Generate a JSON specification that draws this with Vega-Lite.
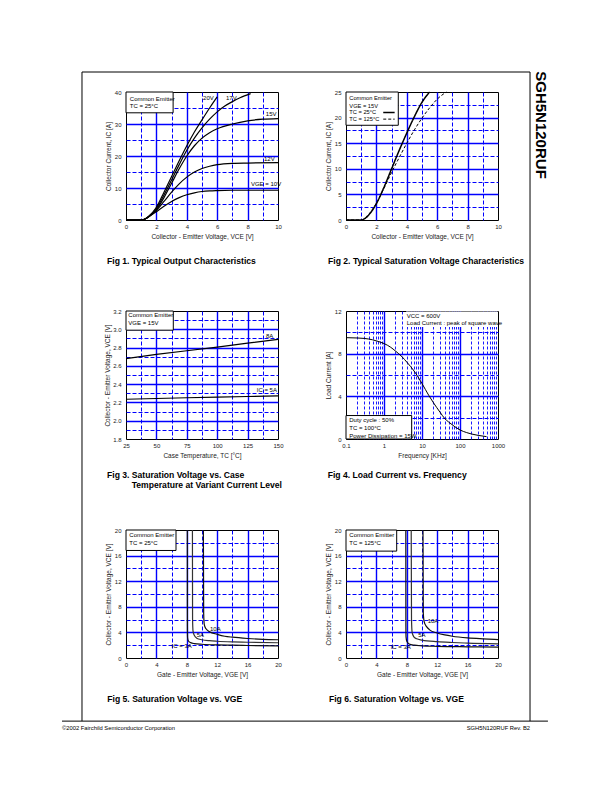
{
  "$schema": "https://vega.github.io/schema/vega-lite/v6.json",
  "autosize": {"type": "none"},
  "padding": {"left": 126, "top": 92, "right": 486, "bottom": 700},
  "background": "white",
  "config": {
    "font": "Liberation Sans",
    "view": {"stroke": "black", "strokeWidth": 1},
    "axis": {"grid": true, "gridColor": "#0000ff", "domain": false, "ticks": false, "tickCount": 100, "labelFont": "Liberation Sans", "labelFontSize": 6, "labelColor": "#222", "titleFont": "Liberation Sans", "titleFontSize": 6.5, "titleFontWeight": "normal", "titleColor": "#222", "labelFlush": false, "labelOverlap": false, "labelBound": false},
    "axisX": {"labelPadding": 3, "titlePadding": 4},
    "axisY": {"labelPadding": 5, "titlePadding": 2.5},
    "text": {"font": "Liberation Sans", "fontSize": 6, "align": "left", "baseline": "middle", "color": "black"}
  },
  "columns": 2,
  "spacing": {"row": 91, "column": 68},
  "bounds": "flush",
  "datasets": {
    "f1c": [
      {"s":"10V","x":0,"y":0},{"s":"10V","x":1,"y":0},{"s":"10V","x":1.25,"y":0.3},{"s":"10V","x":1.5,"y":1},{"s":"10V","x":2,"y":2.6},{"s":"10V","x":2.5,"y":4.3},{"s":"10V","x":3,"y":5.8},{"s":"10V","x":3.5,"y":7.0},{"s":"10V","x":4,"y":7.9},{"s":"10V","x":4.5,"y":8.5},{"s":"10V","x":5,"y":8.9},{"s":"10V","x":5.5,"y":9.1},{"s":"10V","x":6,"y":9.2},{"s":"10V","x":7,"y":9.3},{"s":"10V","x":8,"y":9.3},{"s":"10V","x":10,"y":9.3},
      {"s":"12V","x":0,"y":0},{"s":"12V","x":1,"y":0},{"s":"12V","x":1.25,"y":0.3},{"s":"12V","x":1.5,"y":1},{"s":"12V","x":2,"y":3},{"s":"12V","x":2.5,"y":5.8},{"s":"12V","x":3,"y":8.7},{"s":"12V","x":3.5,"y":11.3},{"s":"12V","x":4,"y":13.4},{"s":"12V","x":4.5,"y":15},{"s":"12V","x":5,"y":16.1},{"s":"12V","x":5.5,"y":16.8},{"s":"12V","x":6,"y":17.3},{"s":"12V","x":7,"y":17.7},{"s":"12V","x":8,"y":17.8},{"s":"12V","x":10,"y":17.9},
      {"s":"15V","x":0,"y":0},{"s":"15V","x":1,"y":0},{"s":"15V","x":1.25,"y":0.3},{"s":"15V","x":1.5,"y":1.1},{"s":"15V","x":2,"y":3.2},{"s":"15V","x":2.5,"y":7},{"s":"15V","x":3,"y":11.5},{"s":"15V","x":3.5,"y":16},{"s":"15V","x":4,"y":20},{"s":"15V","x":4.5,"y":23.2},{"s":"15V","x":5,"y":25.6},{"s":"15V","x":5.5,"y":27.3},{"s":"15V","x":6,"y":28.5},{"s":"15V","x":7,"y":30},{"s":"15V","x":8,"y":31},{"s":"15V","x":9,"y":31.5},{"s":"15V","x":10,"y":31.7},
      {"s":"17V","x":0,"y":0},{"s":"17V","x":1,"y":0},{"s":"17V","x":1.25,"y":0.3},{"s":"17V","x":1.5,"y":1.1},{"s":"17V","x":2,"y":3.6},{"s":"17V","x":2.5,"y":7.8},{"s":"17V","x":3,"y":12.5},{"s":"17V","x":3.5,"y":17.3},{"s":"17V","x":4,"y":21.8},{"s":"17V","x":4.5,"y":25.6},{"s":"17V","x":5,"y":28.8},{"s":"17V","x":5.5,"y":31.5},{"s":"17V","x":6,"y":33.8},{"s":"17V","x":6.5,"y":35.6},{"s":"17V","x":7,"y":37},{"s":"17V","x":7.5,"y":38.2},{"s":"17V","x":8.2,"y":39.5},
      {"s":"20V","x":0,"y":0},{"s":"20V","x":1,"y":0},{"s":"20V","x":1.25,"y":0.3},{"s":"20V","x":1.5,"y":1.2},{"s":"20V","x":2,"y":4},{"s":"20V","x":2.5,"y":8.7},{"s":"20V","x":3,"y":13.6},{"s":"20V","x":3.5,"y":18.5},{"s":"20V","x":4,"y":23.2},{"s":"20V","x":4.5,"y":27.5},{"s":"20V","x":5,"y":31.3},{"s":"20V","x":5.5,"y":35},{"s":"20V","x":6,"y":38.5}
    ],
    "f1t": [
      {"x":0.25,"y":37.8,"t":"Common Emitter"},{"x":0.25,"y":35.6,"t":"TC = 25°C"},
      {"x":5.07,"y":38.0,"t":"20V"},{"x":6.58,"y":38.0,"t":"17V"},{"x":9.2,"y":33.1,"t":"15V"},{"x":9.08,"y":19.2,"t":"12V"},{"x":8.22,"y":11.2,"t":"VGE = 10V"}
    ],
    "f1box": [{"x":0,"x2":3.1,"y":33.5,"y2":40}],
    "cap1": [{"x":-1.25,"y":-12.9,"t":"Fig 1. Typical Output Characteristics"}],
    "frame": [
      {"x":-2.895,"y":46.25,"x2":-2.895,"y2":-156.6},
      {"x":26.58,"y":46.25,"x2":26.58,"y2":-156.6},
      {"x":-2.895,"y":46.25,"x2":26.58,"y2":46.25},
      {"x":-4.21,"y":-156.6,"x2":27.76,"y2":-156.6}
    ],
    "f2c": [
      {"s":"25","x":0,"y":0},{"s":"25","x":1,"y":0},{"s":"25","x":1.25,"y":0.3},{"s":"25","x":1.5,"y":1.0},{"s":"25","x":2,"y":3.2},{"s":"25","x":2.5,"y":6.4},{"s":"25","x":3,"y":10},{"s":"25","x":3.5,"y":13.6},{"s":"25","x":4,"y":17},{"s":"25","x":4.5,"y":20.2},{"s":"25","x":5,"y":23},{"s":"25","x":5.5,"y":25},
      {"s":"125","x":0,"y":0},{"s":"125","x":1,"y":0},{"s":"125","x":1.25,"y":0.3},{"s":"125","x":1.5,"y":1.1},{"s":"125","x":2,"y":3.3},{"s":"125","x":2.5,"y":6.2},{"s":"125","x":3,"y":9.3},{"s":"125","x":3.5,"y":12.2},{"s":"125","x":4,"y":15},{"s":"125","x":4.5,"y":17.6},{"s":"125","x":5,"y":19.9},{"s":"125","x":5.5,"y":21.9},{"s":"125","x":6,"y":23.6},{"s":"125","x":6.6,"y":25}
    ],
    "f2t": [
      {"x":0.22,"y":23.8,"t":"Common Emitter"},{"x":0.22,"y":22.3,"t":"VGE = 15V"},{"x":0.22,"y":21.0,"t":"TC =  25°C"},{"x":0.22,"y":19.7,"t":"TC = 125°C"}
    ],
    "f2box": [{"x":0,"x2":3.44,"y":18.5,"y2":25}],
    "f2leg": [{"s":"25","x":2.45,"x2":3.2,"y":21.0},{"s":"125","x":2.45,"x2":3.2,"y":19.7}],
    "cap2": [{"x":-1.18,"y":-8.06,"t":"Fig 2. Typical Saturation Voltage Characteristics"}],
    "hdr": [{"x":12.83,"y":18.55,"t":"SGH5N120RUF"}],
    "f3c": [
      {"s":"8A","x":25,"y":2.68},{"s":"8A","x":50,"y":2.725},{"s":"8A","x":75,"y":2.765},{"s":"8A","x":100,"y":2.805},{"s":"8A","x":125,"y":2.848},{"s":"8A","x":150,"y":2.89},
      {"s":"5A","x":25,"y":2.235},{"s":"5A","x":50,"y":2.243},{"s":"5A","x":75,"y":2.251},{"s":"5A","x":100,"y":2.258},{"s":"5A","x":125,"y":2.265},{"s":"5A","x":150,"y":2.272}
    ],
    "f3t": [
      {"x":26.9,"y":3.153,"t":"Common Emitter"},{"x":26.9,"y":3.065,"t":"VGE = 15V"},{"x":140.1,"y":2.93,"t":"8A"},{"x":132.5,"y":2.337,"t":"IC = 5A"}
    ],
    "f3box": [{"x":25,"x2":63.9,"y":2.99,"y2":3.2}],
    "cap3": [{"x":9.38,"y":1.406,"t":"Fig 3. Saturation Voltage vs. Case"},{"x":29.7,"y":1.302,"t":"Temperature at Variant Current Level"}],
    "f4c": [
      {"x":0.1,"y":9.5},{"x":0.2,"y":9.47},{"x":0.3,"y":9.43},{"x":0.5,"y":9.3},{"x":0.7,"y":9.15},{"x":1,"y":8.95},{"x":1.5,"y":8.6},{"x":2,"y":8.25},{"x":3,"y":7.7},{"x":4,"y":7.2},{"x":5,"y":6.8},{"x":7,"y":6.1},{"x":10,"y":5.2},{"x":15,"y":4.1},{"x":20,"y":3.4},{"x":30,"y":2.5},{"x":40,"y":1.9},{"x":50,"y":1.6},{"x":70,"y":1.2},{"x":100,"y":0.85},{"x":150,"y":0.6},{"x":200,"y":0.47},{"x":300,"y":0.34},{"x":500,"y":0.22}
    ],
    "f4t": [
      {"x":3.96,"y":11.55,"t":"VCC = 600V"},{"x":3.96,"y":10.9,"t":"Load Current : peak of square wave"},
      {"x":0.122,"y":1.78,"t":"Duty cycle : 50%"},{"x":0.122,"y":1.05,"t":"TC = 100°C"},{"x":0.122,"y":0.32,"t":"Power Dissipation = 15W"}
    ],
    "f4wbox": [{"x":3.8,"x2":980,"y":10.5,"y2":11.95}],
    "f4box": [{"x":0.1,"x2":5.35,"y":0,"y2":2.2}],
    "cap4": [{"x":0.033,"y":-3.37,"t":"Fig 4. Load Current vs. Frequency"}],
    "f5c": [
      {"s":"3A","x":8.07,"y":20},{"s":"3A","x":8.08,"y":5},{"s":"3A","x":8.1,"y":3.2},{"s":"3A","x":8.2,"y":2.7},{"s":"3A","x":8.5,"y":2.4},{"s":"3A","x":9,"y":2.25},{"s":"3A","x":10,"y":2.15},{"s":"3A","x":12,"y":2.05},{"s":"3A","x":14,"y":2.0},{"s":"3A","x":16,"y":1.95},{"s":"3A","x":20,"y":1.9},
      {"s":"5A","x":8.74,"y":20},{"s":"5A","x":8.76,"y":6},{"s":"5A","x":8.82,"y":4.2},{"s":"5A","x":9.0,"y":3.5},{"s":"5A","x":9.3,"y":3.1},{"s":"5A","x":10,"y":2.85},{"s":"5A","x":11,"y":2.7},{"s":"5A","x":12,"y":2.62},{"s":"5A","x":14,"y":2.52},{"s":"5A","x":16,"y":2.46},{"s":"5A","x":20,"y":2.38},
      {"s":"10A","x":10.18,"y":20},{"s":"10A","x":10.22,"y":7},{"s":"10A","x":10.3,"y":5.2},{"s":"10A","x":10.5,"y":4.6},{"s":"10A","x":11,"y":4.1},{"s":"10A","x":12,"y":3.7},{"s":"10A","x":13,"y":3.4},{"s":"10A","x":14,"y":3.25},{"s":"10A","x":16,"y":3.05},{"s":"10A","x":18,"y":2.92},{"s":"10A","x":20,"y":2.85}
    ],
    "f5t": [
      {"x":0.44,"y":19.2,"t":"Common Emitter"},{"x":0.44,"y":18.0,"t":"TC = 25°C"},{"x":6.0,"y":1.9,"t":"IC = 3A"},{"x":9.3,"y":3.6,"t":"5A"},{"x":11.05,"y":4.5,"t":"10A"}
    ],
    "f5box": [{"x":0,"x2":6.58,"y":16.8,"y2":20}],
    "cap5": [{"x":-2.46,"y":-6.33,"t":"Fig 5. Saturation Voltage vs. VGE"}],
    "foot1": [{"x":-8.42,"y":-10.94,"t":"©2002 Fairchild Semiconductor Corporation"}],
    "f6c": [
      {"s":"3A","x":7.87,"y":20},{"s":"3A","x":7.88,"y":5},{"s":"3A","x":7.9,"y":3.3},{"s":"3A","x":8.0,"y":2.6},{"s":"3A","x":8.3,"y":2.2},{"s":"3A","x":9,"y":2.0},{"s":"3A","x":10,"y":1.9},{"s":"3A","x":12,"y":1.82},{"s":"3A","x":16,"y":1.75},{"s":"3A","x":20,"y":1.7},
      {"s":"5A","x":8.58,"y":20},{"s":"5A","x":8.62,"y":6},{"s":"5A","x":8.7,"y":4.0},{"s":"5A","x":8.9,"y":3.35},{"s":"5A","x":9.3,"y":3.0},{"s":"5A","x":10,"y":2.8},{"s":"5A","x":12,"y":2.55},{"s":"5A","x":14,"y":2.42},{"s":"5A","x":16,"y":2.33},{"s":"5A","x":20,"y":2.22},
      {"s":"10A","x":10.13,"y":20},{"s":"10A","x":10.17,"y":7},{"s":"10A","x":10.3,"y":5.6},{"s":"10A","x":10.6,"y":4.9},{"s":"10A","x":11,"y":4.4},{"s":"10A","x":12,"y":3.9},{"s":"10A","x":13,"y":3.6},{"s":"10A","x":14,"y":3.4},{"s":"10A","x":16,"y":3.15},{"s":"10A","x":18,"y":3.0},{"s":"10A","x":20,"y":2.88}
    ],
    "f6t": [
      {"x":0.44,"y":19.2,"t":"Common Emitter"},{"x":0.44,"y":18.0,"t":"TC = 125°C"},{"x":5.88,"y":1.73,"t":"IC = 3A"},{"x":9.5,"y":3.67,"t":"5A"},{"x":10.75,"y":5.83,"t":"10A"}
    ],
    "f6box": [{"x":0,"x2":6.67,"y":16.7,"y2":20}],
    "cap6": [{"x":-2.24,"y":-6.33,"t":"Fig 6. Saturation Voltage vs. VGE"}],
    "foot2": [{"x":24.21,"y":-10.94,"t":"SGH5N120RUF Rev. B2"}]
  },
  "concat": [
    {
      "width": 152, "height": 128,
      "layer": [
        {"data": {"name": "f1c"}, "mark": {"type": "line", "color": "black", "strokeWidth": 1.2, "interpolate": "monotone"},
         "encoding": {
           "x": {"field": "x", "type": "quantitative", "scale": {"domain": [0, 10], "nice": false}, "axis": {"title": "Collector - Emitter Voltage, VCE [V]", "tickCount": 100, "values": [0,1,2,3,4,5,6,7,8,9,10], "labelExpr": "datum.value % 2 == 0 ? format(datum.value, '~g') : ''", "gridDash": {"condition": {"test": "datum.value % 2 == 0", "value": [1,0]}, "value": [4,2]}, "gridWidth": {"condition": {"test": "datum.value % 2 == 0", "value": 1.4}, "value": 1}, "gridOpacity": {"condition": {"test": "datum.value == 0 || datum.value == 10", "value": 0}, "value": 1}}},
           "y": {"field": "y", "type": "quantitative", "scale": {"domain": [0, 40], "nice": false}, "axis": {"title": "Collector Current, IC [A]", "tickCount": 100, "values": [0,5,10,15,20,25,30,35,40], "labelExpr": "datum.value % 10 == 0 ? format(datum.value, '~g') : ''", "gridDash": {"condition": {"test": "datum.value % 10 == 0", "value": [1,0]}, "value": [4,2]}, "gridWidth": {"condition": {"test": "datum.value % 10 == 0", "value": 1.4}, "value": 1}, "gridOpacity": {"condition": {"test": "datum.value == 0 || datum.value == 40", "value": 0}, "value": 1}}},
           "detail": {"field": "s"}
         }},
        {"data": {"name": "f1box"}, "mark": {"type": "rect", "fill": "white", "stroke": "black", "strokeWidth": 1},
         "encoding": {"x": {"field": "x", "type": "quantitative", "scale": {"domain": [0, 10], "nice": false}}, "x2": {"field": "x2"}, "y": {"field": "y", "type": "quantitative", "scale": {"domain": [0, 40], "nice": false}}, "y2": {"field": "y2"}}},
        {"data": {"name": "f1t"}, "mark": {"type": "text"},
         "encoding": {"x": {"field": "x", "type": "quantitative", "scale": {"domain": [0, 10], "nice": false}}, "y": {"field": "y", "type": "quantitative", "scale": {"domain": [0, 40], "nice": false}}, "text": {"field": "t"}}},
        {"data": {"name": "cap1"}, "mark": {"type": "text", "fontSize": 8.6, "fontWeight": "bold", "clip": false},
         "encoding": {"x": {"field": "x", "type": "quantitative", "scale": {"domain": [0, 10], "nice": false}}, "y": {"field": "y", "type": "quantitative", "scale": {"domain": [0, 40], "nice": false}}, "text": {"field": "t"}}},
        {"data": {"name": "frame"}, "mark": {"type": "rule", "color": "black", "strokeWidth": 1, "clip": false},
         "encoding": {"x": {"field": "x", "type": "quantitative", "scale": {"domain": [0, 10], "nice": false}}, "x2": {"field": "x2"}, "y": {"field": "y", "type": "quantitative", "scale": {"domain": [0, 40], "nice": false}}, "y2": {"field": "y2"}}}
      ]
    },
    {
      "width": 152, "height": 128,
      "layer": [
        {"data": {"name": "f2c"}, "mark": {"type": "line", "color": "black", "interpolate": "monotone"},
         "encoding": {
           "x": {"field": "x", "type": "quantitative", "scale": {"domain": [0, 10], "nice": false}, "axis": {"title": "Collector - Emitter Voltage, VCE [V]", "tickCount": 100, "values": [0,1,2,3,4,5,6,7,8,9,10], "labelExpr": "datum.value % 2 == 0 ? format(datum.value, '~g') : ''", "gridDash": {"condition": {"test": "datum.value % 2 == 0", "value": [1,0]}, "value": [4,2]}, "gridWidth": {"condition": {"test": "datum.value % 2 == 0", "value": 1.4}, "value": 1}, "gridOpacity": {"condition": {"test": "datum.value == 0 || datum.value == 10", "value": 0}, "value": 1}}},
           "y": {"field": "y", "type": "quantitative", "scale": {"domain": [0, 25], "nice": false}, "axis": {"title": "Collector Current, IC [A]", "tickCount": 100, "values": [0,2.5,5,7.5,10,12.5,15,17.5,20,22.5,25], "labelExpr": "datum.value % 5 == 0 ? format(datum.value, '~g') : ''", "gridDash": {"condition": {"test": "datum.value % 5 == 0", "value": [1,0]}, "value": [4,2]}, "gridWidth": {"condition": {"test": "datum.value % 5 == 0", "value": 1.4}, "value": 1}, "gridOpacity": {"condition": {"test": "datum.value == 0 || datum.value == 25", "value": 0}, "value": 1}}},
           "strokeDash": {"field": "s", "type": "nominal", "scale": {"domain": ["25", "125"], "range": [[1, 0], [3, 2]]}, "legend": null},
           "strokeWidth": {"field": "s", "type": "nominal", "scale": {"domain": ["25", "125"], "range": [1.5, 1]}, "legend": null}
         }},
        {"data": {"name": "f2box"}, "mark": {"type": "rect", "fill": "white", "stroke": "black", "strokeWidth": 1},
         "encoding": {"x": {"field": "x", "type": "quantitative", "scale": {"domain": [0, 10], "nice": false}}, "x2": {"field": "x2"}, "y": {"field": "y", "type": "quantitative", "scale": {"domain": [0, 25], "nice": false}}, "y2": {"field": "y2"}}},
        {"data": {"name": "f2leg"}, "mark": {"type": "rule", "color": "black"},
         "encoding": {"x": {"field": "x", "type": "quantitative", "scale": {"domain": [0, 10], "nice": false}}, "x2": {"field": "x2"}, "y": {"field": "y", "type": "quantitative", "scale": {"domain": [0, 25], "nice": false}},
           "strokeDash": {"field": "s", "type": "nominal", "scale": {"domain": ["25", "125"], "range": [[1, 0], [3, 2]]}, "legend": null},
           "strokeWidth": {"field": "s", "type": "nominal", "scale": {"domain": ["25", "125"], "range": [1.5, 1]}, "legend": null}}},
        {"data": {"name": "f2t"}, "mark": {"type": "text", "fontSize": 5.7},
         "encoding": {"x": {"field": "x", "type": "quantitative", "scale": {"domain": [0, 10], "nice": false}}, "y": {"field": "y", "type": "quantitative", "scale": {"domain": [0, 25], "nice": false}}, "text": {"field": "t"}}},
        {"data": {"name": "cap2"}, "mark": {"type": "text", "fontSize": 8.6, "fontWeight": "bold", "clip": false},
         "encoding": {"x": {"field": "x", "type": "quantitative", "scale": {"domain": [0, 10], "nice": false}}, "y": {"field": "y", "type": "quantitative", "scale": {"domain": [0, 25], "nice": false}}, "text": {"field": "t"}}},
        {"data": {"name": "hdr"}, "mark": {"type": "text", "angle": 90, "align": "center", "baseline": "middle", "fontSize": 15, "fontWeight": "bold", "clip": false},
         "encoding": {"x": {"field": "x", "type": "quantitative", "scale": {"domain": [0, 10], "nice": false}}, "y": {"field": "y", "type": "quantitative", "scale": {"domain": [0, 25], "nice": false}}, "text": {"field": "t"}}}
      ]
    },
    {
      "width": 152, "height": 128,
      "layer": [
        {"data": {"name": "f3c"}, "mark": {"type": "line", "color": "black", "strokeWidth": 1.2},
         "encoding": {
           "x": {"field": "x", "type": "quantitative", "scale": {"domain": [25, 150], "nice": false, "zero": false}, "axis": {"title": "Case Temperature, TC [°C]", "tickCount": 100, "values": [25,37.5,50,62.5,75,87.5,100,112.5,125,137.5,150], "labelExpr": "datum.value % 25 == 0 ? format(datum.value, '~g') : ''", "gridDash": {"condition": {"test": "datum.value % 25 == 0", "value": [1,0]}, "value": [4,2]}, "gridWidth": {"condition": {"test": "datum.value % 25 == 0", "value": 1.4}, "value": 1}, "gridOpacity": {"condition": {"test": "datum.value == 25 || datum.value == 150", "value": 0}, "value": 1}}},
           "y": {"field": "y", "type": "quantitative", "scale": {"domain": [1.8, 3.2], "nice": false, "zero": false}, "axis": {"title": "Collector - Emitter Voltage, VCE [V]", "tickCount": 100, "values": [1.8,1.9,2.0,2.1,2.2,2.3,2.4,2.5,2.6,2.7,2.8,2.9,3.0,3.1,3.2], "labelExpr": "round(datum.value * 10) % 2 == 0 ? format(datum.value, '.1f') : ''", "gridDash": {"condition": {"test": "round(datum.value * 10) % 2 == 0", "value": [1,0]}, "value": [4,2]}, "gridWidth": {"condition": {"test": "round(datum.value * 10) % 2 == 0", "value": 1.4}, "value": 1}, "gridOpacity": {"condition": {"test": "datum.value == 1.8 || datum.value == 3.2", "value": 0}, "value": 1}}},
           "detail": {"field": "s"}
         }},
        {"data": {"name": "f3box"}, "mark": {"type": "rect", "fill": "white", "stroke": "black", "strokeWidth": 1},
         "encoding": {"x": {"field": "x", "type": "quantitative", "scale": {"domain": [25, 150], "nice": false, "zero": false}}, "x2": {"field": "x2"}, "y": {"field": "y", "type": "quantitative", "scale": {"domain": [1.8, 3.2], "nice": false, "zero": false}}, "y2": {"field": "y2"}}},
        {"data": {"name": "f3t"}, "mark": {"type": "text"},
         "encoding": {"x": {"field": "x", "type": "quantitative", "scale": {"domain": [25, 150], "nice": false, "zero": false}}, "y": {"field": "y", "type": "quantitative", "scale": {"domain": [1.8, 3.2], "nice": false, "zero": false}}, "text": {"field": "t"}}},
        {"data": {"name": "cap3"}, "mark": {"type": "text", "fontSize": 8.6, "fontWeight": "bold", "clip": false},
         "encoding": {"x": {"field": "x", "type": "quantitative", "scale": {"domain": [25, 150], "nice": false, "zero": false}}, "y": {"field": "y", "type": "quantitative", "scale": {"domain": [1.8, 3.2], "nice": false, "zero": false}}, "text": {"field": "t"}}}
      ]
    },
    {
      "width": 152, "height": 128,
      "layer": [
        {"data": {"name": "f4c"}, "mark": {"type": "line", "color": "black", "strokeWidth": 1, "interpolate": "monotone"},
         "encoding": {
           "x": {"field": "x", "type": "quantitative", "scale": {"type": "log", "domain": [0.1, 1000], "nice": false}, "axis": {"title": "Frequency [KHz]", "tickCount": 100, "values": [0.1,0.2,0.3,0.4,0.5,0.6,0.7,0.8,0.9,1,2,3,4,5,6,7,8,9,10,20,30,40,50,60,70,80,90,100,200,300,400,500,600,700,800,900,1000], "labelExpr": "abs(log(datum.value)/LN10 - round(log(datum.value)/LN10)) < 0.001 ? format(datum.value, '~g') : ''", "gridDash": {"condition": {"test": "abs(log(datum.value)/LN10 - round(log(datum.value)/LN10)) < 0.001", "value": [1,0]}, "value": [3,2]}, "gridWidth": {"condition": {"test": "abs(log(datum.value)/LN10 - round(log(datum.value)/LN10)) < 0.001", "value": 1.4}, "value": 0.9}, "gridOpacity": {"condition": {"test": "datum.value == 0.1 || datum.value == 1000", "value": 0}, "value": 1}}},
           "y": {"field": "y", "type": "quantitative", "scale": {"domain": [0, 12], "nice": false}, "axis": {"title": "Load Current [A]", "tickCount": 100, "values": [0,2,4,6,8,10,12], "labelExpr": "datum.value % 4 == 0 ? format(datum.value, '~g') : ''", "gridDash": {"condition": {"test": "datum.value % 4 == 0", "value": [1,0]}, "value": [4,2]}, "gridWidth": {"condition": {"test": "datum.value % 4 == 0", "value": 1.4}, "value": 1}, "gridOpacity": {"condition": {"test": "datum.value == 0 || datum.value == 12", "value": 0}, "value": 1}}}
         }},
        {"data": {"name": "f4wbox"}, "mark": {"type": "rect", "fill": "white"},
         "encoding": {"x": {"field": "x", "type": "quantitative", "scale": {"type": "log", "domain": [0.1, 1000], "nice": false}}, "x2": {"field": "x2"}, "y": {"field": "y", "type": "quantitative", "scale": {"domain": [0, 12], "nice": false}}, "y2": {"field": "y2"}}},
        {"data": {"name": "f4box"}, "mark": {"type": "rect", "fill": "white", "stroke": "black", "strokeWidth": 1},
         "encoding": {"x": {"field": "x", "type": "quantitative", "scale": {"type": "log", "domain": [0.1, 1000], "nice": false}}, "x2": {"field": "x2"}, "y": {"field": "y", "type": "quantitative", "scale": {"domain": [0, 12], "nice": false}}, "y2": {"field": "y2"}}},
        {"data": {"name": "f4t"}, "mark": {"type": "text"},
         "encoding": {"x": {"field": "x", "type": "quantitative", "scale": {"type": "log", "domain": [0.1, 1000], "nice": false}}, "y": {"field": "y", "type": "quantitative", "scale": {"domain": [0, 12], "nice": false}}, "text": {"field": "t"}}},
        {"data": {"name": "cap4"}, "mark": {"type": "text", "fontSize": 8.6, "fontWeight": "bold", "clip": false},
         "encoding": {"x": {"field": "x", "type": "quantitative", "scale": {"type": "log", "domain": [0.1, 1000], "nice": false}}, "y": {"field": "y", "type": "quantitative", "scale": {"domain": [0, 12], "nice": false}}, "text": {"field": "t"}}}
      ]
    },
    {
      "width": 152, "height": 128,
      "layer": [
        {"data": {"name": "f5c"}, "mark": {"type": "line", "strokeWidth": 1.2, "interpolate": "monotone"},
         "encoding": {
           "x": {"field": "x", "type": "quantitative", "scale": {"domain": [0, 20], "nice": false}, "axis": {"title": "Gate - Emitter Voltage, VGE [V]", "tickCount": 100, "values": [0,2,4,6,8,10,12,14,16,18,20], "labelExpr": "datum.value % 4 == 0 ? format(datum.value, '~g') : ''", "gridDash": {"condition": {"test": "datum.value % 4 == 0", "value": [1,0]}, "value": [4,2]}, "gridWidth": {"condition": {"test": "datum.value % 4 == 0", "value": 1.4}, "value": 1}, "gridOpacity": {"condition": {"test": "datum.value == 0 || datum.value == 20", "value": 0}, "value": 1}}},
           "y": {"field": "y", "type": "quantitative", "scale": {"domain": [0, 20], "nice": false}, "axis": {"title": "Collector - Emitter Voltage, VCE [V]", "tickCount": 100, "values": [0,2,4,6,8,10,12,14,16,18,20], "labelExpr": "datum.value % 4 == 0 ? format(datum.value, '~g') : ''", "gridDash": {"condition": {"test": "datum.value % 4 == 0", "value": [1,0]}, "value": [4,2]}, "gridWidth": {"condition": {"test": "datum.value % 4 == 0", "value": 1.4}, "value": 1}, "gridOpacity": {"condition": {"test": "datum.value == 0 || datum.value == 20", "value": 0}, "value": 1}}},
           "color": {"field": "s", "type": "nominal", "scale": {"domain": ["3A", "5A", "10A"], "range": ["#111111", "#333333", "#111111"]}, "legend": null}
         }},
        {"data": {"name": "f5box"}, "mark": {"type": "rect", "fill": "white", "stroke": "black", "strokeWidth": 1},
         "encoding": {"x": {"field": "x", "type": "quantitative", "scale": {"domain": [0, 20], "nice": false}}, "x2": {"field": "x2"}, "y": {"field": "y", "type": "quantitative", "scale": {"domain": [0, 20], "nice": false}}, "y2": {"field": "y2"}}},
        {"data": {"name": "f5t"}, "mark": {"type": "text"},
         "encoding": {"x": {"field": "x", "type": "quantitative", "scale": {"domain": [0, 20], "nice": false}}, "y": {"field": "y", "type": "quantitative", "scale": {"domain": [0, 20], "nice": false}}, "text": {"field": "t"}}},
        {"data": {"name": "cap5"}, "mark": {"type": "text", "fontSize": 8.6, "fontWeight": "bold", "clip": false},
         "encoding": {"x": {"field": "x", "type": "quantitative", "scale": {"domain": [0, 20], "nice": false}}, "y": {"field": "y", "type": "quantitative", "scale": {"domain": [0, 20], "nice": false}}, "text": {"field": "t"}}},
        {"data": {"name": "foot1"}, "mark": {"type": "text", "fontSize": 5.8, "align": "left", "clip": false},
         "encoding": {"x": {"field": "x", "type": "quantitative", "scale": {"domain": [0, 20], "nice": false}}, "y": {"field": "y", "type": "quantitative", "scale": {"domain": [0, 20], "nice": false}}, "text": {"field": "t"}}}
      ]
    },
    {
      "width": 152, "height": 128,
      "layer": [
        {"data": {"name": "f6c"}, "mark": {"type": "line", "strokeWidth": 1.2, "interpolate": "monotone"},
         "encoding": {
           "x": {"field": "x", "type": "quantitative", "scale": {"domain": [0, 20], "nice": false}, "axis": {"title": "Gate - Emitter Voltage, VGE [V]", "tickCount": 100, "values": [0,2,4,6,8,10,12,14,16,18,20], "labelExpr": "datum.value % 4 == 0 ? format(datum.value, '~g') : ''", "gridDash": {"condition": {"test": "datum.value % 4 == 0", "value": [1,0]}, "value": [4,2]}, "gridWidth": {"condition": {"test": "datum.value % 4 == 0", "value": 1.4}, "value": 1}, "gridOpacity": {"condition": {"test": "datum.value == 0 || datum.value == 20", "value": 0}, "value": 1}}},
           "y": {"field": "y", "type": "quantitative", "scale": {"domain": [0, 20], "nice": false}, "axis": {"title": "Collector - Emitter Voltage, VCE [V]", "tickCount": 100, "values": [0,2,4,6,8,10,12,14,16,18,20], "labelExpr": "datum.value % 4 == 0 ? format(datum.value, '~g') : ''", "gridDash": {"condition": {"test": "datum.value % 4 == 0", "value": [1,0]}, "value": [4,2]}, "gridWidth": {"condition": {"test": "datum.value % 4 == 0", "value": 1.4}, "value": 1}, "gridOpacity": {"condition": {"test": "datum.value == 0 || datum.value == 20", "value": 0}, "value": 1}}},
           "color": {"field": "s", "type": "nominal", "scale": {"domain": ["3A", "5A", "10A"], "range": ["#111111", "#888888", "#111111"]}, "legend": null}
         }},
        {"data": {"name": "f6box"}, "mark": {"type": "rect", "fill": "white", "stroke": "black", "strokeWidth": 1},
         "encoding": {"x": {"field": "x", "type": "quantitative", "scale": {"domain": [0, 20], "nice": false}}, "x2": {"field": "x2"}, "y": {"field": "y", "type": "quantitative", "scale": {"domain": [0, 20], "nice": false}}, "y2": {"field": "y2"}}},
        {"data": {"name": "f6t"}, "mark": {"type": "text"},
         "encoding": {"x": {"field": "x", "type": "quantitative", "scale": {"domain": [0, 20], "nice": false}}, "y": {"field": "y", "type": "quantitative", "scale": {"domain": [0, 20], "nice": false}}, "text": {"field": "t"}}},
        {"data": {"name": "cap6"}, "mark": {"type": "text", "fontSize": 8.6, "fontWeight": "bold", "clip": false},
         "encoding": {"x": {"field": "x", "type": "quantitative", "scale": {"domain": [0, 20], "nice": false}}, "y": {"field": "y", "type": "quantitative", "scale": {"domain": [0, 20], "nice": false}}, "text": {"field": "t"}}},
        {"data": {"name": "foot2"}, "mark": {"type": "text", "fontSize": 5.8, "align": "right", "clip": false},
         "encoding": {"x": {"field": "x", "type": "quantitative", "scale": {"domain": [0, 20], "nice": false}}, "y": {"field": "y", "type": "quantitative", "scale": {"domain": [0, 20], "nice": false}}, "text": {"field": "t"}}}
      ]
    }
  ]
}
